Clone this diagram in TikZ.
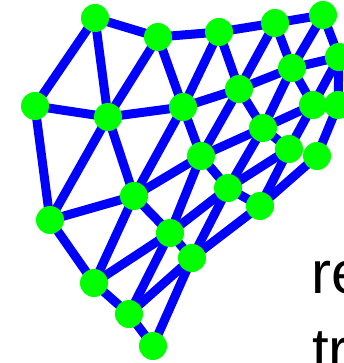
\documentclass[tikz,border=0pt]{standalone}
\usepackage{fontspec}
\setmainfont{Liberation Sans}
\usetikzlibrary{backgrounds}
\definecolor{edgeblue}{RGB}{0,0,255}
\definecolor{nodegreen}{RGB}{0,255,0}
\tikzset{
  vtx/.style={circle,fill=nodegreen,draw=none,minimum size=28pt,inner sep=0pt},
  edg/.style={draw=edgeblue,line width=9pt},
  bigtext/.style={font=\fontsize{60pt}{72pt}\selectfont,anchor=base west,inner sep=0pt}
}
\begin{document}
\begin{tikzpicture}[x=1pt,y=-1pt]
\useasboundingbox (0,0) rectangle (343,363);
\node[vtx] (A) at (95,18) {};
\node[vtx] (B) at (158,37) {};
\node[vtx] (C) at (219,32) {};
\node[vtx] (D) at (275,23) {};
\node[vtx] (E) at (323,15) {};
\node[vtx] (F) at (339,57) {};
\node[vtx] (G) at (292,68) {};
\node[vtx] (H) at (239,89) {};
\node[vtx] (I) at (183,107) {};
\node[vtx] (J) at (108,117) {};
\node[vtx] (K) at (35,106) {};
\node[vtx] (L) at (313,105) {};
\node[vtx] (M) at (338,105) {};
\node[vtx] (N) at (263,128) {};
\node[vtx] (O) at (289,149) {};
\node[vtx] (P) at (317,156) {};
\node[vtx] (Q) at (201,156) {};
\node[vtx] (R) at (228,188) {};
\node[vtx] (S) at (260,206) {};
\node[vtx] (T) at (134,196) {};
\node[vtx] (U) at (50,220) {};
\node[vtx] (V) at (170,233) {};
\node[vtx] (W) at (192,258) {};
\node[vtx] (X) at (94,283) {};
\node[vtx] (Y) at (129,314) {};
\node[vtx] (Z) at (153,346) {};
\begin{scope}[on background layer]
\foreach \a/\b in {A/B,A/K,A/J,B/J,B/C,B/I,C/D,C/I,C/H,D/E,D/G,D/H,E/G,E/F,F/G,F/L,F/M,
  G/H,G/L,G/N,H/I,H/N,H/Q,I/J,I/Q,I/T,J/K,J/U,J/T,K/U,L/N,L/O,M/P,N/Q,N/O,N/R,
  O/R,O/S,P/S,Q/R,Q/T,Q/V,R/S,R/V,R/W,S/W,T/U,T/V,T/X,U/X,V/X,V/W,V/Y,W/Y,W/Z,X/Y,Y/Z}
  \draw[edg] (\a.center) -- (\b.center);
\end{scope}
\node[bigtext] (t1) at (311,293) {re};
\node[bigtext] (t2) at (312,370) {tr};
\end{tikzpicture}
\end{document}
